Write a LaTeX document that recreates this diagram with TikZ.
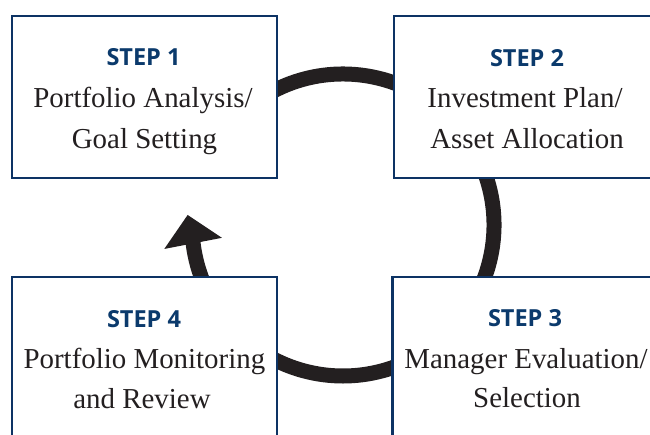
\documentclass[tikz,border=0pt]{standalone}
\usepackage{fontspec}
\setmainfont{Liberation Serif}
\newfontfamily\stepfont{Open Sans}
\usetikzlibrary{arrows.meta,calc}
\definecolor{navy}{HTML}{0D3364}
\definecolor{stepblue}{HTML}{0B3A6C}
\definecolor{ink}{HTML}{231F20}
\tikzset{
  stepbox/.style={draw=navy, line width=2.5pt, fill=white, rectangle, inner sep=0pt},
  steplabel/.style={anchor=base, inner sep=0pt, text=stepblue, font=\stepfont\bfseries\fontsize{23.5pt}{28pt}\selectfont},
  steptext/.style={anchor=base, inner sep=0pt, text=ink, font=\fontsize{28.9pt}{34pt}\selectfont},
  ring/.style={draw=ink, line width=15pt, line cap=butt}
}
\begin{document}
\begin{tikzpicture}[x=1pt, y=-1pt]
\useasboundingbox (0,0) rectangle (650,434);
\clip (0,0) rectangle (650,434);
% cycle ring
\coordinate (c) at (343,225);
\draw[ring, -{Triangle[width=57pt,length=29pt]}]
  (c) ++(-120:151) arc[start angle=-120, end angle=173, radius=151] -- ++(-5.5,-28.5);
% boxes
\node[stepbox, minimum width=265pt, minimum height=162pt] (s1) at (144.5,97) {};
\node[stepbox, minimum width=263pt, minimum height=162pt] (s2) at (525.5,97) {};
\node[stepbox, minimum width=265.5pt, minimum height=164pt] (s3) at (525.25,359) {};
\node[stepbox, minimum width=265pt, minimum height=164pt] (s4) at (144.5,359) {};
% texts
\node[steplabel] (s1h) at (143.5,65) {STEP 1};
\node[steptext] (s1a) at (143,107) {Portfolio Analysis/};
\node[steptext] (s1b) at (144.5,148) {Goal Setting};
\node[steplabel] (s2h) at (527,66) {STEP 2};
\node[steptext] (s2a) at (525,107) {Investment Plan/};
\node[steptext] (s2b) at (527,148) {Asset Allocation};
\node[steplabel] (s3h) at (525,326) {STEP 3};
\node[steptext] (s3a) at (526,368) {Manager Evaluation/};
\node[steptext] (s3b) at (527,407) {Selection};
\node[steplabel] (s4h) at (144,327) {STEP 4};
\node[steptext] (s4a) at (144.4,368) {Portfolio Monitoring};
\node[steptext] (s4b) at (142,408) {and Review};
\end{tikzpicture}
\end{document}
